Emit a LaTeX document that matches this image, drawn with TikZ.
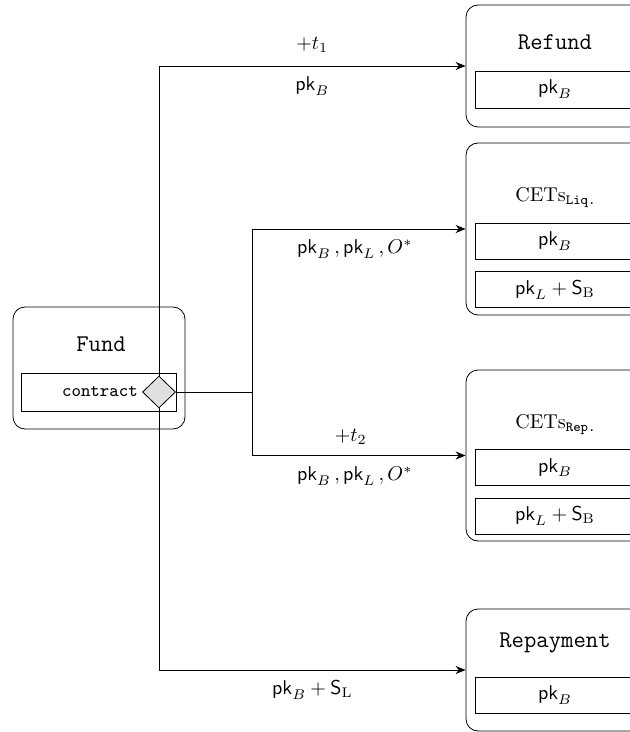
\documentclass[tikz,border=0pt]{standalone}
\usepackage{amsmath,amssymb}
\usepackage{tikz}
\usetikzlibrary{arrows.meta,positioning,shapes.geometric}
\tikzset{
  statebox/.style={draw,rounded corners=6pt,minimum width=89pt},
  titlelabel/.style={font=\large\ttfamily},
  fieldbox/.style={draw,minimum width=80pt,minimum height=18pt,inner sep=0pt},
  gatebox/.style={draw,shape=diamond,fill=black!12,minimum width=16.5pt,minimum height=16pt,inner sep=0pt},
  flowarrow/.style={-{Stealth[length=5pt,width=4pt]}},
  edgelabel/.style={font=\normalsize}
}
\begin{document}
\begin{tikzpicture}[x=0.5pt,y=-0.5pt]
  \useasboundingbox (0,0) rectangle (629,732);
  % fund
  \node[statebox,minimum width=86pt,minimum height=61pt] (fund) at (99,368) {};
  \node[titlelabel] (fundtitle) at (101,344) {Fund};
  \node[fieldbox,minimum width=77.5pt,minimum height=19pt] (contract) at (98.5,392) {};
  \node[gatebox] (gate) at (159,392) {};
  \node[font=\small\ttfamily,anchor=east,inner sep=2pt] (contracttext) at (gate.west) {contract};
  \coordinate (split) at (252,392);
  % outputs
  \node[statebox,minimum height=61pt] (refund) at (555,66) {};
  \node[titlelabel] (refundtitle) at (555,42) {Refund};
  \node[fieldbox,minimum height=18.5pt] (refundkey) at (555,89.5) {$\mathsf{pk}_B$};
  \node[statebox,minimum height=86pt] (liq) at (555,229) {};
  \node (liqtitle) at (556,198) {$\mathrm{CETs}_{\texttt{Liq.}}$};
  \node[fieldbox] (liqkey) at (555,241) {$\mathsf{pk}_B$};
  \node[fieldbox,below=6pt of liqkey] (liqpath) {$\mathsf{pk}_L + \mathsf{S}_\mathrm{B}$};
  \node[statebox,minimum height=85.5pt] (rep) at (555,455.5) {};
  \node (reptitle) at (556,425) {$\mathrm{CETs}_{\texttt{Rep.}}$};
  \node[fieldbox] (repkey) at (555,467.5) {$\mathsf{pk}_B$};
  \node[fieldbox,below=6pt of repkey] (reppath) {$\mathsf{pk}_L + \mathsf{S}_\mathrm{B}$};
  \node[statebox,minimum height=61pt] (repay) at (555,670) {};
  \node[titlelabel] (repaytitle) at (555,643) {Repayment};
  \node[fieldbox] (repaykey) at (555,695) {$\mathsf{pk}_B$};
  % connectors
  \draw[flowarrow] (gate.north) |- node[edgelabel,pos=0.75,above=3pt] {$+t_1$}
    node[edgelabel,pos=0.75,below=2pt] {$\mathsf{pk}_B$} (refund.west);
  \draw (gate.east) -- (split);
  \draw[flowarrow] (split) |- node[edgelabel,pos=0.75,below=2pt,xshift=-2pt] {$\mathsf{pk}_B\,, \mathsf{pk}_L\,, O^*$} (liq.west);
  \draw[flowarrow] (split) |- node[edgelabel,pos=0.75,above=2pt,xshift=-4pt] {$+t_2$}
    node[edgelabel,pos=0.75,below=2pt,xshift=-2pt] {$\mathsf{pk}_B\,, \mathsf{pk}_L\,, O^*$} (rep.west);
  \draw[flowarrow] (gate.south) |- node[edgelabel,pos=0.75,below=2pt] {$\mathsf{pk}_B + \mathsf{S}_\mathrm{L}$} (repay.west);
\end{tikzpicture}
\end{document}
